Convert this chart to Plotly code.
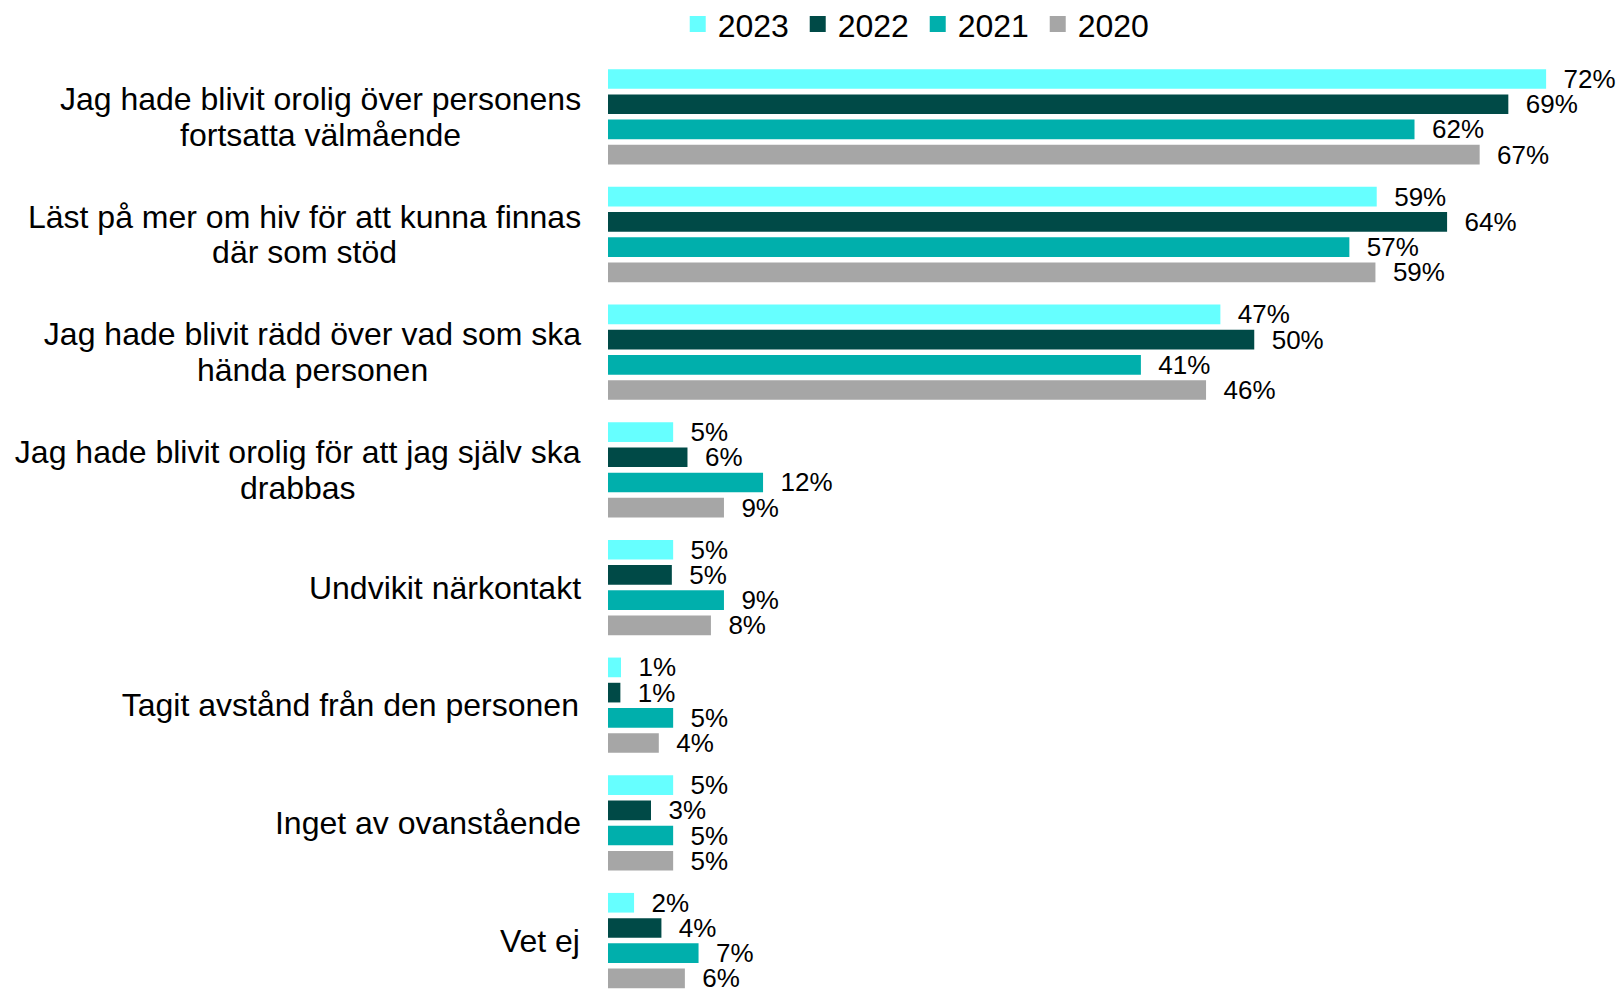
import plotly.graph_objects as go

categories = [
    "Jag hade blivit orolig över personens<br>fortsatta välmående",
    "Läst på mer om hiv för att kunna finnas<br>där som stöd",
    "Jag hade blivit rädd över vad som ska<br>hända personen",
    "Jag hade blivit orolig för att jag själv ska<br>drabbas",
    "Undvikit närkontakt",
    "Tagit avstånd från den personen",
    "Inget av ovanstående",
    "Vet ej",
]
series_names = ["2023", "2022", "2021", "2020"]
v2023 = [72.0, 59.0, 47.0, 5.0, 5.0, 1.0, 5.0, 2.0]
v2022 = [69.1, 64.4, 49.6, 6.1, 4.9, 0.95, 3.3, 4.1]
v2021 = [61.9, 56.9, 40.9, 11.9, 8.9, 5.0, 5.0, 6.95]
v2020 = [66.9, 58.9, 45.9, 8.9, 7.9, 3.9, 5.0, 5.9]
colors = ["#66FFFF", "#004A47", "#00AFAC", "#A6A6A6"]

FONT = "Liberation Sans, Arial, sans-serif"
CAT_SIZE = 32
LINE_GAP = 35.4  # px between the two lines of a wrapped label

# Arial / Liberation Sans advance widths (1/1000 em) to centre wrapped lines
_W = {" ": 278, "a": 556, "b": 556, "c": 500, "d": 556, "e": 556, "f": 278,
      "g": 556, "h": 556, "i": 222, "j": 222, "k": 500, "l": 222, "m": 833,
      "n": 556, "o": 556, "p": 556, "q": 556, "r": 333, "s": 500, "t": 278,
      "u": 556, "v": 500, "w": 722, "x": 500, "y": 500, "z": 500, "å": 556,
      "ä": 556, "ö": 556, "J": 500, "L": 556, "U": 722, "T": 611, "I": 278,
      "V": 667}


def text_width(s, size):
    return sum(_W.get(ch, 556) for ch in s) * size / 1000.0


fig = go.Figure()
for name, vals, col in zip(series_names, [v2023, v2022, v2021, v2020], colors):
    fig.add_trace(go.Bar(
        y=categories, x=vals, name=name, orientation="h",
        marker=dict(color=col, line=dict(width=0)),
        texttemplate="\u00a0\u00a0%{x:.0f}%", textposition="outside",
        textfont=dict(size=26, color="black", family=FONT),
        constraintext="none", cliponaxis=False,
        showlegend=False,
    ))
    # legend entry with a larger square swatch
    fig.add_trace(go.Scatter(
        x=[None], y=[None], mode="markers", name=name,
        marker=dict(symbol="square", size=16, color=col),
        showlegend=True,
    ))

for cat in categories:
    lines = cat.split("<br>")
    n = len(lines)
    box_w = max(text_width(l, CAT_SIZE) for l in lines) + 2
    for j, line in enumerate(lines):
        fig.add_annotation(
            xref="paper", x=0, xanchor="right", xshift=-24.5,
            yref="y", y=cat, yanchor="middle",
            yshift=-(j - (n - 1) / 2.0) * LINE_GAP,
            text=line, showarrow=False, align="center", width=box_w,
            font=dict(size=CAT_SIZE, color="black", family=FONT),
        )

fig.update_layout(
    width=1618, height=990,
    margin=dict(l=608, r=10, t=58, b=0),
    barmode="group", bargap=0.143, bargroupgap=0.22,
    plot_bgcolor="white", paper_bgcolor="white",
    font=dict(family=FONT, color="black"),
    legend=dict(
        orientation="h", xref="container", yref="container",
        x=0.5672, xanchor="center", y=0.9755, yanchor="middle",
        font=dict(size=32, color="black", family=FONT),
        traceorder="normal", entrywidth=75,
    ),
    xaxis=dict(range=[0, 76.75], showgrid=False, zeroline=False,
               showticklabels=False, showline=False, fixedrange=True),
    yaxis=dict(range=[7.42, -0.5], showgrid=False, zeroline=False,
               showticklabels=False, showline=False, ticks=""),
)

fig.write_html("out.html", config={"displayModeBar": False},
               post_script="document.body.style.margin='0px';")
